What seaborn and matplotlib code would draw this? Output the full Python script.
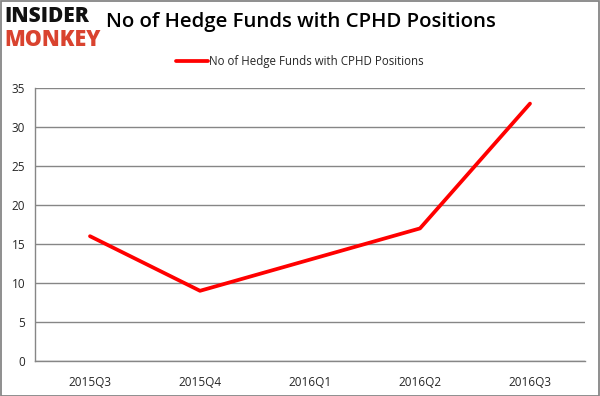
import matplotlib
matplotlib.use("Agg")
import matplotlib.pyplot as plt
import seaborn as sns
import pandas as pd
from matplotlib.patches import Rectangle

quarters = ["2015Q3", "2015Q4", "2016Q1", "2016Q2", "2016Q3"]
funds = [16, 9, 13, 17, 33]
series_name = "No of Hedge Funds with CPHD Positions"
title = "No of Hedge Funds with CPHD Positions"
yticks = [0, 5, 10, 15, 20, 25, 30, 35]

sns.set_style("white")
plt.rcParams['font.family'] = ['Open Sans', 'DejaVu Sans']

df = pd.DataFrame({"quarter": quarters, "funds": funds, "x": range(len(quarters))})

fig = plt.figure(figsize=(6, 3.96), dpi=100)
ax = fig.add_axes([35/600, 35/396, 550/600, 273/396])

sns.lineplot(data=df, x="x", y="funds", ax=ax, color="#ff0000", linewidth=2.7,
             label=series_name, legend=False)

ax.set_xlim(-0.5, len(quarters) - 0.5)
ax.set_ylim(0, 35)
ax.set_yticks(yticks)
ax.set_yticklabels([str(v) for v in yticks], fontsize=8.5)
ax.set_xticks(range(len(quarters)))
ax.set_xticklabels(quarters, fontsize=8.5)
ax.set_xticks([i - 0.5 for i in range(len(quarters) + 1)], minor=True)
ax.tick_params(axis="x", which="major", length=0, pad=11)
ax.tick_params(axis="x", which="minor", length=4, color="#868686", width=1, direction="out")
ax.tick_params(axis="y", length=0, pad=7)
ax.set_xlabel("")
ax.set_ylabel("")
ax.grid(axis="y", color="#868686", linewidth=1)
ax.set_axisbelow(True)
for s in ["top", "right"]:
    ax.spines[s].set_visible(False)
for s in ["left", "bottom"]:
    ax.spines[s].set_color("#868686")
    ax.spines[s].set_linewidth(1)

fig.text(301/600, 1 - 22/396, title, ha="center", va="center", fontsize=14.7,
         fontweight="semibold", color="black")
leg = ax.legend(loc="center", bbox_to_anchor=(0.5, 1 - 62/396), bbox_transform=fig.transFigure,
                frameon=False, fontsize=8.3, handlelength=2.8, handletextpad=0.1)

fig.text(4/600, 1 - 17/396, "INSIDER", ha="left", va="center", fontsize=15,
         fontweight="heavy", color="#111111")
fig.text(4/600, 1 - 40/396, "MONKEY", ha="left", va="center", fontsize=15.5,
         fontweight="heavy", color="#d9432f")

fig.patches.append(Rectangle((0.5/600, 0.5/396), 598.5/600, 394.5/396, transform=fig.transFigure,
                             fill=False, edgecolor="#868686", linewidth=1.3))

fig.savefig("out.png", dpi=100)
